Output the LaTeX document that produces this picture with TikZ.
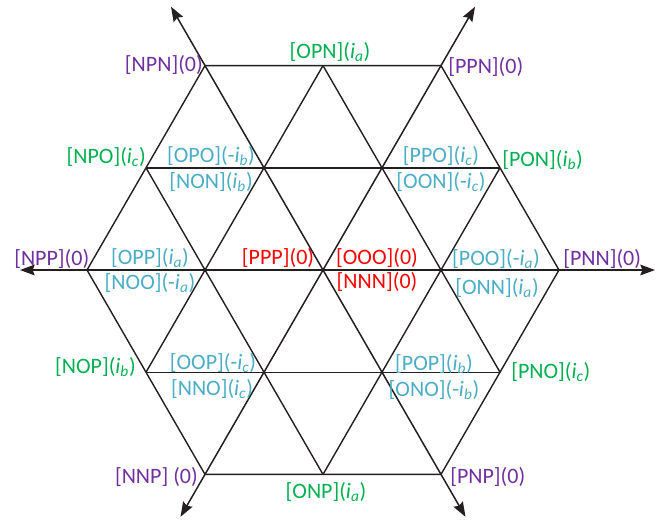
\documentclass[tikz,border=0pt]{standalone}
\usepackage{fontspec}
\setmainfont{Carlito}
\usetikzlibrary{arrows.meta}
\definecolor{lin}{HTML}{231F20}
\definecolor{cpur}{HTML}{7030A0}
\definecolor{cgrn}{HTML}{00B050}
\definecolor{ccyn}{HTML}{4BACC6}
\definecolor{cred}{HTML}{FF0000}
\newcommand{\ix}[1]{{\itshape i\textsubscript{#1}}}
\tikzset{
  grid/.style={draw=lin, line width=1.4pt*0.75},
  axis/.style={draw=lin, line width=1.5pt*0.75, {Stealth[length=11pt, width=8pt, inset=1.5pt]}-{Stealth[length=11pt, width=8pt, inset=1.5pt]}},
  lbl/.style={inner sep=0pt, font=\fontsize{16.5}{19}\selectfont},
  pur/.style={lbl, text=cpur},
  grn/.style={lbl, text=cgrn},
  cyn/.style={lbl, text=ccyn},
  rd/.style={lbl, text=cred},
}
\begin{document}
\begin{tikzpicture}[x=0.75pt, y=-0.75pt]
\useasboundingbox (0,0) rectangle (660,519);
% lattice coordinates
\coordinate (H0) at (559,270);
\coordinate (H1) at (441,65.6);
\coordinate (H2) at (205,65.6);
\coordinate (H3) at (87,270);
\coordinate (H4) at (205,474.4);
\coordinate (H5) at (441,474.4);
\coordinate (T) at (323,65.6);
\coordinate (B) at (323,474.4);
\coordinate (L1) at (146,167.8);
\coordinate (R1) at (500,167.8);
\coordinate (L3) at (146,372.2);
\coordinate (R3) at (500,372.2);
% hexagon
\draw[grid] (H0) -- (H1) -- (H2) -- (H3) -- (H4) -- (H5) -- cycle;
% inner lines
\draw[grid] (L1) -- (R1);
\draw[grid] (L3) -- (R3);
\draw[grid] (L3) -- (T);
\draw[grid] (B) -- (R1);
\draw[grid] (L1) -- (B);
\draw[grid] (T) -- (R3);
% axes
\coordinate (AL) at (20,270);
\coordinate (AR) at (655,270);
\coordinate (AUR) at (475,6.7);
\coordinate (ADL) at (180.5,516.8);
\coordinate (AUL) at (171,6.7);
\coordinate (ADR) at (465.5,516.8);
\draw[axis] (AL) -- (AR);
\draw[axis] (ADL) -- (AUR);
\draw[axis] (ADR) -- (AUL);
% labels
\node[pur, anchor=east] (npn) at (203,65) {[NPN](0)};
\node[grn] (opn) at (330,52) {[OPN](\ix{a})};
\node[pur, anchor=west] (ppn) at (448,67) {[PPN](0)};
\node[grn, anchor=east] (npo) at (146,157) {[NPO](\ix{c})};
\node[cyn] (opo) at (211,156) {[OPO](-\ix{b})};
\node[cyn] (non) at (211,182) {[NON](\ix{b})};
\node[cyn] (ppo) at (441,156) {[PPO](\ix{c})};
\node[cyn] (oon) at (441,182) {[OON](-\ix{c})};
\node[grn, anchor=west] (pon) at (502,160) {[PON](\ix{b})};
\node[pur, anchor=west] (npp) at (14,259) {[NPP](0)};
\node[cyn] (opp) at (150,258) {[OPP](\ix{a})};
\node[cyn] (noo) at (150,283) {[NOO](-\ix{a})};
\node[rd] (ppp) at (278,258) {[PPP](0)};
\node[rd] (ooo) at (377,258) {[OOO](0)};
\node[rd] (nnn) at (377,282) {[NNN](0)};
\node[cyn] (poo) at (496,259) {[POO](-\ix{a})};
\node[cyn] (onn) at (497,288) {[ONN](\ix{a})};
\node[pur, anchor=west] (pnn) at (563,259) {[PNN](0)};
\node[grn, anchor=east] (nop) at (136,367) {[NOP](\ix{b})};
\node[cyn] (oop) at (213,363) {[OOP](-\ix{c})};
\node[cyn] (nno) at (212,389) {[NNO](\ix{c})};
\node[cyn] (pop) at (434,364) {[POP](\ix{b})};
\node[cyn] (ono) at (434,390) {[ONO](-\ix{b})};
\node[grn, anchor=west] (pno) at (511,372) {[PNO](\ix{c})};
\node[pur, anchor=east] (nnp) at (198,477) {[NNP] (0)};
\node[grn] (onp) at (326,492) {[ONP](\ix{a})};
\node[pur, anchor=west] (pnp) at (450,477) {[PNP](0)};
\end{tikzpicture}
\end{document}
